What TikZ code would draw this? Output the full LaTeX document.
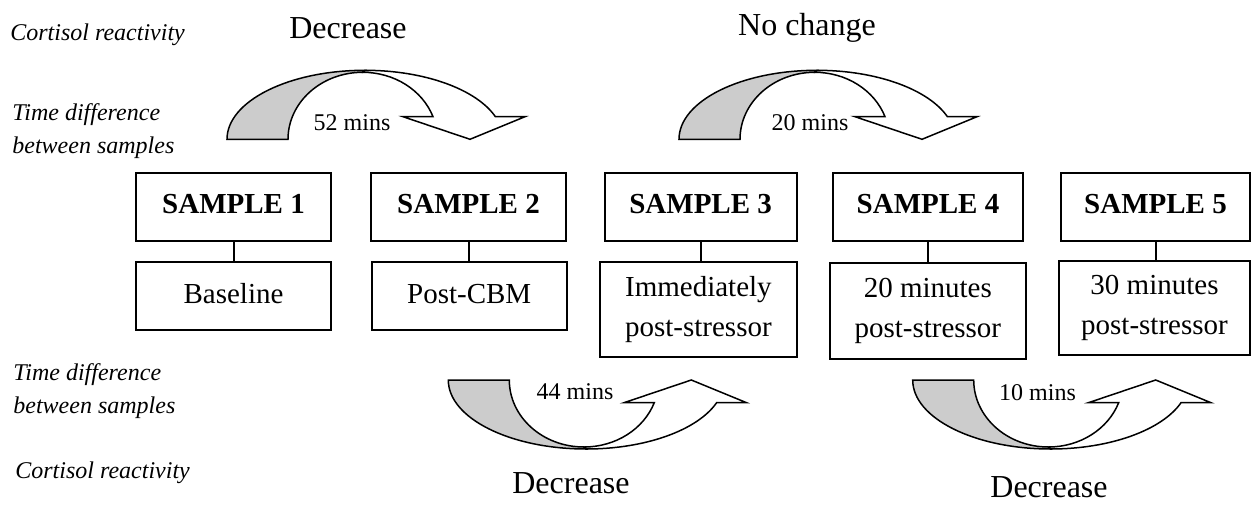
\documentclass[tikz,border=0pt]{standalone}
\usepackage{fontspec}
\setmainfont{Liberation Serif}
\newcommand{\cortarrow}[3]{%
  \begin{scope}[shift={(#1,#2)},yscale=#3]
    \path[back] (0,0) arc[start angle=180,end angle=90,x radius=138,y radius=69]
      -- (135.7,67) arc[start angle=90,end angle=180,x radius=74.7,y radius=67] -- cycle;
    \path[front] (138,69) arc[start angle=90,end angle=19.1,x radius=138,y radius=69]
      -- (298,22.6) -- (243,0) -- (176,22.6) -- (206,22.6)
      arc[start angle=19.7,end angle=90,x radius=74.7,y radius=67] -- cycle;
  \end{scope}}
\begin{document}
\begin{tikzpicture}[x=0.5pt,y=-0.5pt,
  sbox/.style={draw, line width=1pt, minimum width=97.5pt, minimum height=34pt, inner sep=0pt,
    font=\fontsize{14.5}{17}\selectfont\bfseries, text depth=0.35em},
  dbox/.style={draw, line width=1pt, inner sep=0pt, align=center,
    font=\fontsize{14.5}{20}\selectfont},
  side/.style={anchor=west, align=left, inner sep=0pt, font=\fontsize{12}{16.5}\selectfont\itshape},
  effect/.style={inner sep=0pt, font=\fontsize{16}{19}\selectfont},
  mins/.style={inner sep=0pt, font=\fontsize{12}{14}\selectfont},
  link/.style={line width=1pt},
  back/.style={fill=gray!40, draw=black, line width=0.75pt, line join=miter},
  front/.style={fill=white, draw=black, line width=0.75pt, line join=miter}]
\useasboundingbox (0,0) rectangle (1257,508);

% side labels
\node[side] (crt) at (10,35) {Cortisol reactivity};
\node[side] (tdt) at (12,131.5) {Time difference\\between samples};
\node[side] (tdb) at (13,391.5) {Time difference\\between samples};
\node[side] (crb) at (15,473) {Cortisol reactivity};

% curved arrows
\cortarrow{227}{139.3}{-1}
\cortarrow{679}{139.3}{-1}
\cortarrow{448.3}{380}{1}
\cortarrow{912.7}{380}{1}

% effect labels
\node[effect] (dec1) at (348,28) {Decrease};
\node[effect] (noch) at (807,28) {No change};
\node[effect] (dec2) at (571,483) {Decrease};
\node[effect] (dec3) at (1049,487) {Decrease};

% time labels
\node[mins] (m52) at (352,123) {52 mins};
\node[mins] (m20) at (810,123) {20 mins};
\node[mins] (m44) at (575,392) {44 mins};
\node[mins] (m10) at (1037.5,393) {10 mins};

% sample boxes
\node[sbox] (s1) at (233.5,207) {SAMPLE 1};
\node[sbox] (s2) at (468.5,207) {SAMPLE 2};
\node[sbox, minimum width=96pt] (s3) at (700.6,207) {SAMPLE 3};
\node[sbox, minimum width=95pt] (s4) at (928,207) {SAMPLE 4};
\node[sbox, minimum width=94.5pt] (s5) at (1155.5,207) {SAMPLE 5};

% description boxes
\node[dbox, minimum width=97.5pt, minimum height=34pt, text depth=0.25em] (d1) at (233.5,296) {Baseline};
\node[dbox, minimum width=97.5pt, minimum height=34pt, text depth=0.25em] (d2) at (469.2,296) {Post-CBM};
\node[dbox, minimum width=98.2pt, minimum height=47.5pt] (d3) at (698.4,309.5) {Immediately\\post-stressor};
\node[dbox, minimum width=97.8pt, minimum height=48pt] (d4) at (927.8,311) {20 minutes\\post-stressor};
\node[dbox, minimum width=95.5pt, minimum height=47pt] (d5) at (1154.5,308) {30 minutes\\post-stressor};

% connectors
\draw[link] (s1.south) -- (d1.north);
\draw[link] (s2.south) -- (s2.south |- d2.north);
\draw[link] (s3.south) -- (s3.south |- d3.north);
\draw[link] (s4.south) -- (s4.south |- d4.north);
\draw[link] (s5.south) -- (s5.south |- d5.north);
\end{tikzpicture}
\end{document}
